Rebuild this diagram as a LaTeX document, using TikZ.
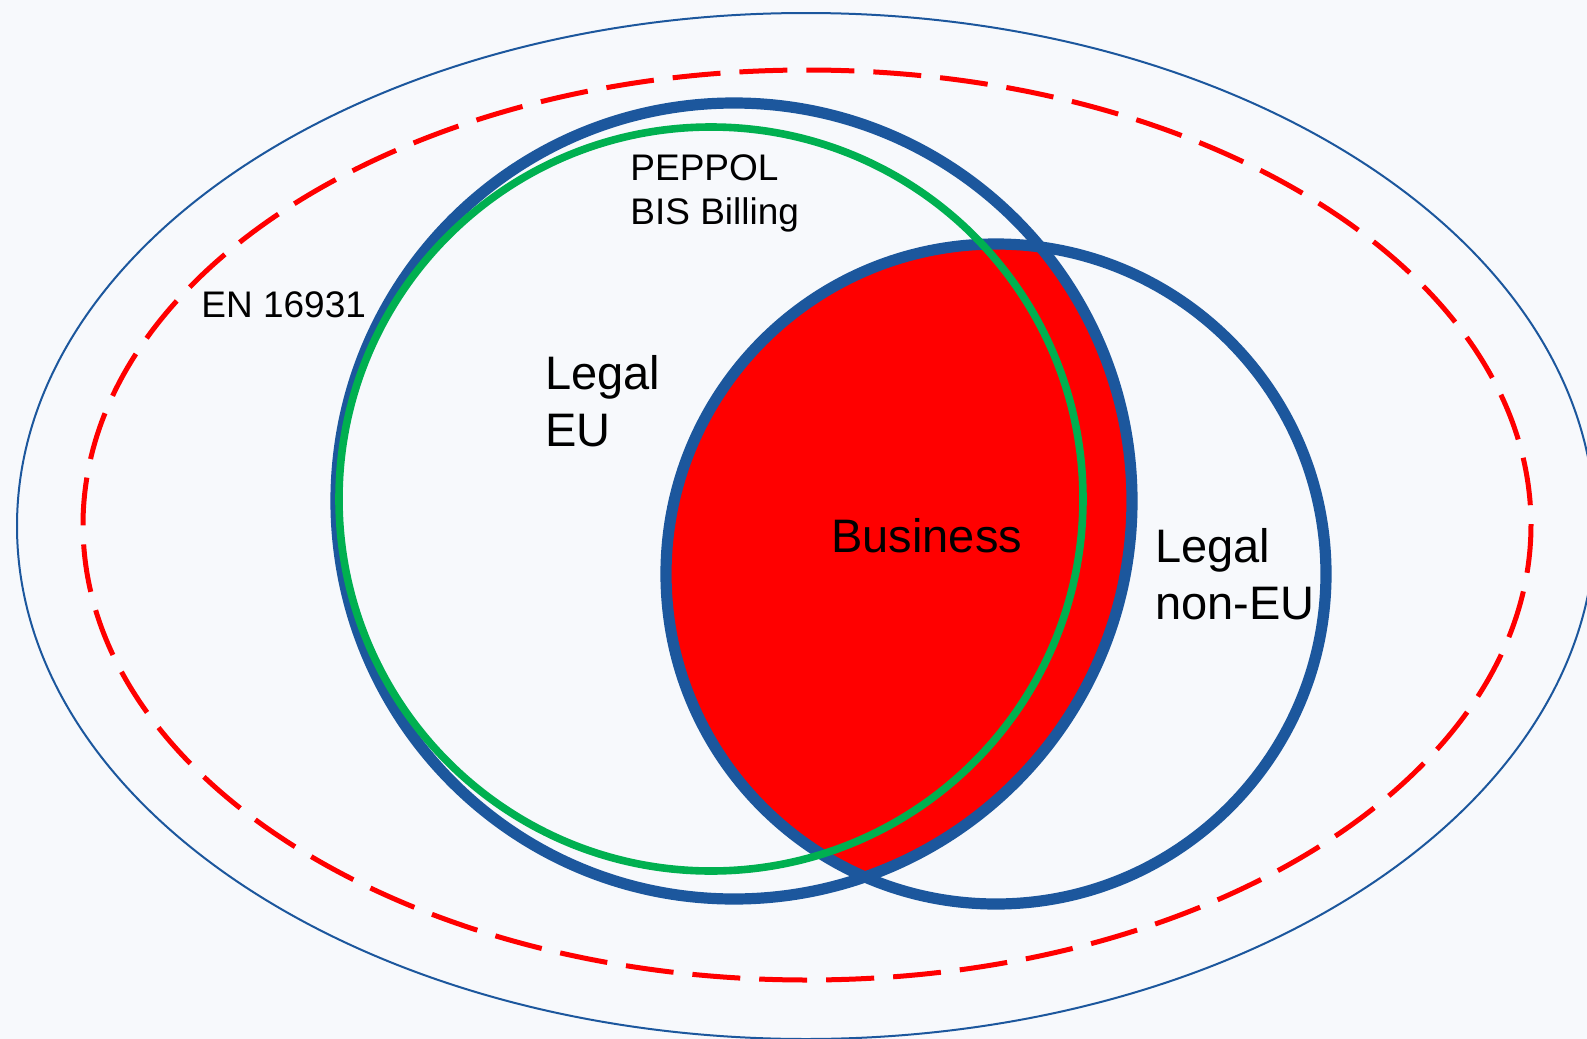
\documentclass[tikz,border=0pt]{standalone}
\usepackage{fontspec}
\setmainfont{Liberation Sans}
\usetikzlibrary{positioning}
\definecolor{setblue}{RGB}{28,87,157}
\definecolor{pepgreen}{RGB}{0,176,80}
\definecolor{paper}{RGB}{247,249,252}
\tikzset{
x=0.5pt, y=-0.5pt, % one unit is one pixel of the sketch, y runs downwards
legal set/.style={draw=setblue, line width=5.6pt}, % the two legal circles
small label/.style={anchor=north west, inner sep=0pt, align=left, font=\fontsize{18.5}{22}\selectfont},
big label/.style={anchor=north west, inner sep=0pt, align=left, font=\fontsize{23.5}{28.5}\selectfont},
}

\begin{document}
\begin{tikzpicture}
        \useasboundingbox (0,0) rectangle (1587,1039);
        \fill[paper] (0,0) rectangle (1587,1039);

        \coordinate (middle) at (806,526);
        \coordinate (en-c) at (807,525);
        \coordinate (eu) at (734,501);
        \coordinate (noneu) at (996,574);
        \coordinate (peppol-c) at (711,499);

        % outer ring, cut by the page
        \begin{scope}
            \clip (0,0) rectangle (1587,1039);
            \draw[setblue, line width=1pt] (middle) ellipse [x radius=789, y radius=513];
        \end{scope}
        \draw[red, line width=2.5pt, dash pattern=on 24pt off 9.5pt] (en-c) ellipse [x radius=724, y radius=455];

        % business = overlap of the two legal sets
        \begin{scope}
            \clip (eu) circle [radius=398];
            \fill[red] (noneu) circle [radius=330];
        \end{scope}
        \draw[legal set] (eu) circle [radius=398];
        \draw[legal set] (noneu) circle [radius=330];
        \draw[pepgreen, line width=3.8pt] (peppol-c) circle [radius=372];

        \node[small label] (peppol) at (630,154) {PEPPOL\\BIS Billing};
        \node[small label] (en) at (201,291) {EN 16931};
        \node[big label] (legal-eu) at (545,355) {Legal\\EU};
        \node[big label] (business) at (831,518) {Business};
        \node[big label] (legal-noneu) at (1155,528) {Legal\\non-EU};
\end{tikzpicture}
\end{document}
